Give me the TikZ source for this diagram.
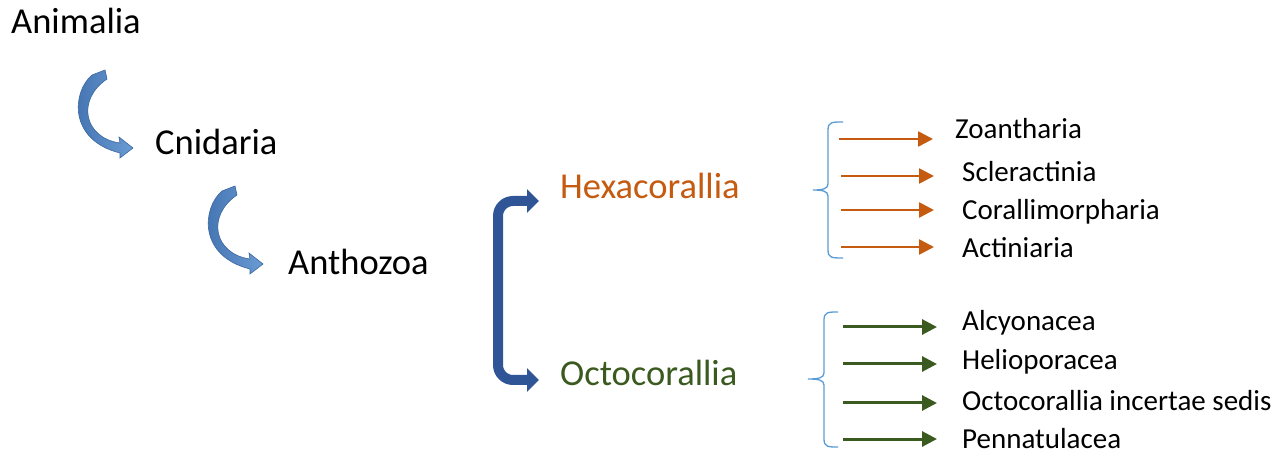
\documentclass[tikz,border=0pt]{standalone}
\usepackage{fontspec}
\setmainfont{Carlito}
\usetikzlibrary{arrows.meta}
\definecolor{hexcol}{HTML}{C55A11}
\definecolor{octcol}{HTML}{3B5A1F}
\definecolor{brcol}{HTML}{2F5597}
\definecolor{bracecol}{HTML}{5B9BD5}
\definecolor{cvlight}{HTML}{6A9BD3}
\definecolor{cvdark}{HTML}{3F70AE}
\definecolor{cvedge}{HTML}{3A679E}
\begin{document}
\begin{tikzpicture}[x=1pt,y=-1pt,
  big/.style={anchor=base west,inner sep=0pt,font=\fontsize{36.5}{40}\selectfont},
  small/.style={anchor=base west,inner sep=0pt,font=\fontsize{29}{32}\selectfont},
  hexarr/.style={draw=hexcol,line width=2.6pt,-{Triangle[length=15pt,width=15pt]}},
  octarr/.style={draw=octcol,line width=3pt,-{Triangle[length=15pt,width=15pt]}},
  bracestyle/.style={draw=bracecol,line width=1.3pt},
  curvedarrow/.style={left color=cvdark,right color=cvlight,draw=cvedge,line width=0.6pt},
  bracket/.style={draw=brcol,line width=10pt,rounded corners=15pt,{Triangle[length=12pt,width=23pt]}-{Triangle[length=12pt,width=23pt]}}
]
\useasboundingbox (0,0) rectangle (1286,454);

% main labels
\node[big] (animalia) at (11,34) {Animalia};
\node[big] (cnidaria) at (155,155) {Cnidaria};
\node[big] (anthozoa) at (288,275) {Anthozoa};
\node[big,text=hexcol] (hexa) at (560,199) {Hexacorallia};
\node[big,text=octcol] (octo) at (560,385) {Octocorallia};

% curved arrows
\path[curvedarrow] (92,75) .. controls (72,92) and (68,140) .. (120,153)
  -- (120,158) -- (133,148) -- (119,137) -- (120,143)
  .. controls (84,138) and (76,100) .. (107,79) -- (105,70) -- cycle;
\begin{scope}[shift={(130,116)}]
\path[curvedarrow] (92,75) .. controls (72,92) and (68,140) .. (120,153)
  -- (120,158) -- (133,148) -- (119,137) -- (120,143)
  .. controls (84,138) and (76,100) .. (107,79) -- (105,70) -- cycle;
\end{scope}

% blue bracket
\coordinate (brtop) at (539,201);
\coordinate (brbot) at (539,380);
\draw[bracket] (brtop) -- (498,201) -- (498,380) -- (brbot);

% Hexacorallia sub-list
\node[small] (zoan) at (955,139) {Zoantharia};
\node[small] (scler) at (962,182) {Scleractinia};
\node[small] (coral) at (962,220) {Corallimorpharia};
\node[small] (actin) at (962,258) {Actiniaria};

\coordinate (h1s) at (839,139); \coordinate (h1e) at (933,139);
\coordinate (h2s) at (841,176); \coordinate (h2e) at (934,176);
\coordinate (h3s) at (841,210); \coordinate (h3e) at (934,210);
\coordinate (h4s) at (841,247); \coordinate (h4e) at (934,247);
\draw[hexarr] (h1s) -- (h1e);
\draw[hexarr] (h2s) -- (h2e);
\draw[hexarr] (h3s) -- (h3e);
\draw[hexarr] (h4s) -- (h4e);

\draw[bracestyle] (843,122) .. controls (832,122) and (828,122) .. (828,130)
  -- (828,184) .. controls (828,189) and (822,190) .. (813,190)
  .. controls (822,190) and (828,191) .. (828,196)
  -- (828,250) .. controls (828,258) and (832,258) .. (843,258);

% Octocorallia sub-list
\node[small] (alcy) at (962,331) {Alcyonacea};
\node[small] (helio) at (962,370) {Helioporacea};
\node[small] (incert) at (962,410) {Octocorallia incertae sedis};
\node[small] (penna) at (962,448) {Pennatulacea};

\coordinate (o1s) at (843,327); \coordinate (o1e) at (937,327);
\coordinate (o2s) at (843,364); \coordinate (o2e) at (937,364);
\coordinate (o3s) at (843,403); \coordinate (o3e) at (937,403);
\coordinate (o4s) at (843,439); \coordinate (o4e) at (937,439);
\draw[octarr] (o1s) -- (o1e);
\draw[octarr] (o2s) -- (o2e);
\draw[octarr] (o3s) -- (o3e);
\draw[octarr] (o4s) -- (o4e);

\draw[bracestyle] (838,312) .. controls (828,312) and (824,312) .. (824,320)
  -- (824,373) .. controls (824,378) and (818,379) .. (808,379)
  .. controls (818,379) and (824,380) .. (824,385)
  -- (824,439) .. controls (824,447) and (828,447) .. (838,447);
\end{tikzpicture}
\end{document}
